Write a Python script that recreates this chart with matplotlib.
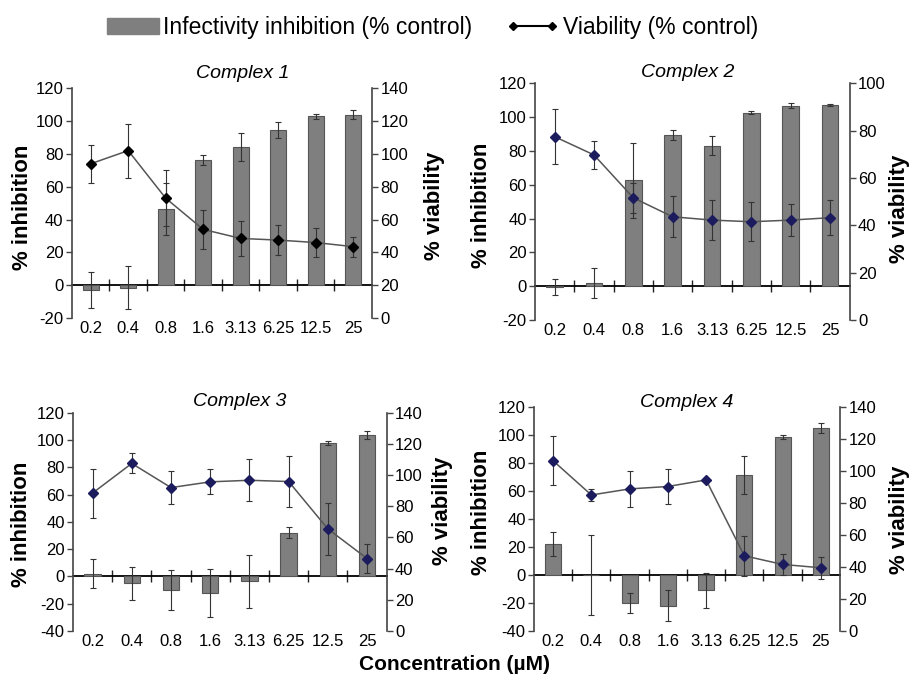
import numpy as np
import matplotlib
matplotlib.use("Agg")
import matplotlib.pyplot as plt
from matplotlib.patches import Patch
from matplotlib.lines import Line2D

plt.rcParams['font.family'] = ['Liberation Sans', 'DejaVu Sans']
plt.rcParams['axes.unicode_minus'] = False

conc = ['0.2', '0.4', '0.8', '1.6', '3.13', '6.25', '12.5', '25']

# infectivity inhibition (% control) -> left axis, viability (% control) -> right axis
inh1 = [-3, -1.5, 46.5, 76.5, 84, 94.5, 103, 104]
inh1_err = [11, 13, 16, 3, 8.5, 5, 1.5, 2.5]
via1 = [94, 102, 73, 54, 48.5, 47.5, 46, 43.5]
via1_err = [11.5, 16.5, 17, 12, 10.5, 9, 9, 6]

inh2 = [-0.5, 2, 62.5, 89.5, 83, 102.5, 106.5, 107]
inh2_err = [4.7, 9, 22, 3, 5.5, 1, 1.5, 0.5]
via2 = [77.4, 69.7, 51.6, 43.6, 42.2, 41.5, 42.2, 43.2]
via2_err = [11.6, 6, 6.3, 8.7, 8.5, 8.2, 6.7, 7.4]

inh3 = [2, -5, -10, -12, -3.5, 32, 98, 104]
inh3_err = [10.5, 12, 14.5, 17.5, 19.5, 4, 1.5, 3]
via3 = [88.5, 107.5, 92, 95.7, 96.7, 95.9, 65.5, 46.5]
via3_err = [15.7, 6.4, 10.6, 8, 13.6, 16.4, 16.8, 9.3]

inh4 = [22, 0, -20, -22, -11, 71.5, 98.5, 105]
inh4_err = [8.5, 28.5, 7.4, 11, 12.5, 13.6, 1.5, 3.5]
via4 = [106.4, 85, 88.8, 90.3, 94.4, 47, 41.6, 39.5]
via4_err = [15.4, 3.7, 11, 10.8, 1, 12.6, 6.6, 7]

fig = plt.figure(figsize=(9.12, 6.84), dpi=100)

BAR = '#7f7f7f'
SPINE = '#444444'


def panel(rect, inh, inh_err, via, via_err, ylim_l, ylim_r, title, tpos, lab_l, lab_r, mcolor):
    ax = fig.add_axes(rect)
    x = np.arange(len(conc))
    ax.bar(x, inh, width=0.42, color=BAR, edgecolor='#555555', linewidth=0.8, zorder=2)
    ax.errorbar(x, inh, yerr=inh_err, fmt='none', ecolor='#333333', elinewidth=0.8,
                capsize=2.5, capthick=0.8, zorder=3)
    ax.set_xlim(-0.5, len(conc) - 0.5)
    ax.set_ylim(*ylim_l)
    ax.set_yticks(np.arange(ylim_l[0], ylim_l[1] + 1, 20))
    ax.set_xticks(x)
    ax.set_xticklabels(conc)
    ax.tick_params(axis='x', length=0, pad=2, labelsize=12)
    ax.tick_params(axis='y', direction='out', length=4, width=1, color=SPINE, labelsize=12, pad=2)
    for s in ['top', 'right', 'bottom']:
        ax.spines[s].set_visible(False)
    ax.spines['left'].set_color(SPINE)
    ax.spines['left'].set_linewidth(1.2)

    # zero line with category separators
    loc = (0 - ylim_l[0]) / (ylim_l[1] - ylim_l[0])
    sec = ax.secondary_xaxis(loc)
    sec.set_xticks(np.arange(0.5, len(conc) - 0.5, 1))
    sec.tick_params(direction='inout', length=8, width=1, labelbottom=False, color='#222222')
    sec.spines['bottom'].set_linewidth(1.3)
    sec.spines['bottom'].set_color('black')

    tw = ax.twinx()
    tw.errorbar(x, via, yerr=via_err, fmt='-D', color='#555555', lw=1.1, ms=5,
                mfc=mcolor, mec=mcolor, ecolor='#333333', elinewidth=0.8,
                capsize=2.5, capthick=0.8)
    tw.set_ylim(*ylim_r)
    tw.set_yticks(np.arange(ylim_r[0], ylim_r[1] + 1, 20))
    tw.tick_params(axis='y', direction='out', length=4, width=1, color=SPINE, labelsize=12, pad=2)
    for s in ['top', 'left', 'bottom']:
        tw.spines[s].set_visible(False)
    tw.spines['right'].set_color(SPINE)
    tw.spines['right'].set_linewidth(1.2)

    # axis titles placed in figure pixels
    fig.text(lab_l[0] / 912, 1 - lab_l[1] / 684, '% inhibition', rotation=90,
             ha='center', va='center', fontsize=16, fontweight='bold')
    fig.text(lab_r[0] / 912, 1 - lab_r[1] / 684, '% viability', rotation=90,
             ha='center', va='center', fontsize=16, fontweight='bold')
    ax.text(tpos[0], tpos[1], title, transform=ax.transAxes, ha='center', va='center',
            fontsize=14, style='italic')
    return ax


panel([0.0789, 0.535, 0.329, 0.336], inh1, inh1_err, via1, via1_err, (-20, 120), (0, 140),
      'Complex 1', (0.57, 1.065), (23, 207), (435, 206), 'black')
panel([0.5866, 0.532, 0.345, 0.3465], inh2, inh2_err, via2, via2_err, (-20, 120), (0, 100),
      'Complex 2', (0.486, 1.045), (482, 205), (900, 209), '#1b1b5e')
panel([0.080, 0.0775, 0.344, 0.319], inh3, inh3_err, via3, via3_err, (-40, 120), (0, 140),
      'Complex 3', (0.53, 1.05), (22, 524), (443, 511), '#1b1b5e')
panel([0.5855, 0.0775, 0.3355, 0.3275], inh4, inh4_err, via4, via4_err, (-40, 120), (0, 140),
      'Complex 4', (0.5, 1.02), (482, 512), (900, 520), '#1b1b5e')

fig.text(0.498, 0.028, 'Concentration (\u00b5M)', ha='center', va='center',
         fontsize=15, fontweight='bold')

handles = [Patch(facecolor=BAR, edgecolor=BAR),
           Line2D([], [], color='black', marker='D', ms=4.5, lw=1.5)]
fig.legend(handles, ['Infectivity inhibition (% control)', 'Viability (% control)'],
           loc='center', bbox_to_anchor=(0.474, 0.96), ncol=2, frameon=False,
           fontsize=16.5, numpoints=2, handlelength=2.3, handletextpad=0.15,
           columnspacing=1.5)

fig.savefig('out.png', dpi=100)
